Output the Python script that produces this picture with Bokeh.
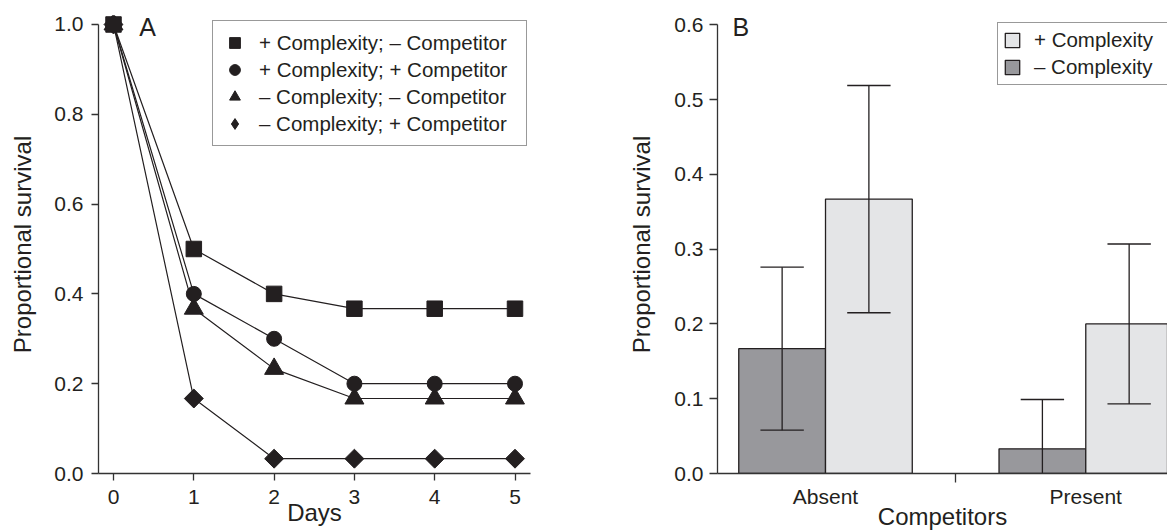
import math
from bokeh.plotting import figure
from bokeh.models import (FixedTicker, Legend, LegendItem, Label, Range1d,
                          PrintfTickFormatter)
from bokeh.layouts import row
from bokeh.embed import file_html
from bokeh.resources import INLINE

# ---------------- data ----------------
days = [0, 1, 2, 3, 4, 5]
plus_cx_no_comp = [1.0, 0.5, 0.4, 0.367, 0.367, 0.367]     # squares
plus_cx_comp = [1.0, 0.4, 0.3, 0.2, 0.2, 0.2]              # circles
minus_cx_no_comp = [1.0, 0.367, 0.233, 0.167, 0.167, 0.167]  # triangles
minus_cx_comp = [1.0, 0.167, 0.033, 0.033, 0.033, 0.033]   # diamonds
series_labels = ["+ Complexity; \u2013 Competitor", "+ Complexity; + Competitor",
                 "\u2013 Complexity; \u2013 Competitor", "\u2013 Complexity; + Competitor"]
yticks_a = [0.0, 0.2, 0.4, 0.6, 0.8, 1.0]

competitors = ["Absent", "Present"]
mean_minus_cx = [0.167, 0.033]
se_minus_cx = [0.109, 0.066]
mean_plus_cx = [0.367, 0.200]
se_plus_cx = [0.152, 0.107]
bar_labels = ["+ Complexity", "\u2013 Complexity"]
yticks_b = [0.0, 0.1, 0.2, 0.3, 0.4, 0.5, 0.6]

FONT = "Liberation Sans"
INK = "#231f20"
AXIS = "#333333"
DARK = "#98989c"
LIGHT = "#e4e5e7"


def style_axes(p):
    p.grid.visible = False
    p.outline_line_color = None
    for ax in p.axis:
        ax.axis_line_color = AXIS
        ax.axis_line_width = 1.3
        ax.major_tick_line_color = AXIS
        ax.major_tick_line_width = 1.3
        ax.minor_tick_line_color = AXIS
        ax.minor_tick_line_width = 1.3
        ax.major_tick_in = 0
        ax.minor_tick_in = 0
        ax.minor_tick_out = 0
        ax.major_tick_out = 7
        ax.major_label_text_font = FONT
        ax.major_label_text_font_size = "21px"
        ax.major_label_text_color = INK
        ax.axis_label_text_font = FONT
        ax.axis_label_text_font_size = "24px"
        ax.axis_label_text_font_style = "normal"
        ax.axis_label_text_color = INK


# ---------------- panel A ----------------
pA = figure(width=600, height=532, x_range=Range1d(-0.187, 5.193), y_range=Range1d(0, 1.02),
            output_backend="svg", toolbar_location=None,
            min_border_left=98, min_border_right=70, min_border_top=15, min_border_bottom=59)
style_axes(pA)
pA.xaxis.ticker = FixedTicker(ticks=days)
pA.yaxis.ticker = FixedTicker(ticks=yticks_a)
pA.yaxis.bounds = (yticks_a[0], yticks_a[-1])
pA.yaxis.formatter = PrintfTickFormatter(format="%.1f")
pA.xaxis.axis_label = "Days"
pA.yaxis.axis_label = "Proportional survival"
pA.xaxis.major_label_standoff = 9
pA.xaxis.axis_label_standoff = -8
pA.yaxis.major_label_standoff = 8
pA.yaxis.axis_label_standoff = 15

series = [
    (minus_cx_comp, dict(marker="square", size=13.4, angle=math.pi / 4), 3),
    (minus_cx_no_comp, dict(marker="triangle", size=19), 2),
    (plus_cx_comp, dict(marker="circle", size=15), 1),
    (plus_cx_no_comp, dict(marker="square", size=15.5), 0),
]
renderers = [None] * 4
for ys, mk, idx in series:
    pA.line(days, ys, line_color=INK, line_width=1.2)
for ys, mk, idx in series:
    renderers[idx] = pA.scatter(days, ys, fill_color=INK, line_color=INK, line_width=1, **mk)
# legend swatch for the diamond series (legend markers are drawn unrotated)
renderers[3] = pA.scatter(days, minus_cx_comp, marker="diamond", fill_color=INK,
                          line_color=INK, size=19, visible=False)

legA = Legend(items=[LegendItem(label=series_labels[i], renderers=[renderers[i]]) for i in range(4)],
              location=(114, 327), glyph_width=27, glyph_height=27, spacing=0,
              padding=8, label_standoff=11, label_width=259, label_height=20,
              label_text_font=FONT, label_text_font_size="20.5px", label_text_color=INK,
              border_line_color=AXIS, border_line_width=1.3, background_fill_color="white",
              background_fill_alpha=1.0, margin=0)
pA.add_layout(legA)
pA.add_layout(Label(x=0.32, y=0.964, text="A", text_font=FONT, text_font_size="25px",
                    text_color=INK))

# ---------------- panel B ----------------
pB = figure(width=567, height=532, x_range=Range1d(0.585, 2.314), y_range=Range1d(0, 0.6126),
            output_backend="svg", toolbar_location=None,
            min_border_left=117, min_border_right=0, min_border_top=15, min_border_bottom=59)
style_axes(pB)
xc = [i + 1 for i in range(len(competitors))]
mids = [(a + b) / 2 for a, b in zip(xc, xc[1:])]
bar_w = 1 / 3
pB.xaxis.ticker = FixedTicker(ticks=xc, minor_ticks=mids)
pB.xaxis.major_label_overrides = {x: c for x, c in zip(xc, competitors)}
pB.xaxis.major_tick_out = 0
pB.xaxis.minor_tick_out = 9
pB.xaxis.major_label_standoff = 2
pB.xaxis.axis_label = "Competitors"
pB.xaxis.axis_label_standoff = -8
pB.yaxis.ticker = FixedTicker(ticks=yticks_b)
pB.yaxis.bounds = (yticks_b[0], yticks_b[-1])
pB.yaxis.formatter = PrintfTickFormatter(format="%.1f")
pB.yaxis.axis_label = "Proportional survival"
pB.yaxis.major_tick_out = 8
pB.yaxis.major_label_standoff = 6
pB.yaxis.axis_label_standoff = 16

x_minus = [x - bar_w / 2 for x in xc]
x_plus = [x + bar_w / 2 for x in xc]
r_minus = pB.vbar(x=x_minus, top=mean_minus_cx, width=bar_w, fill_color=DARK,
                  line_color=INK, line_width=1.3)
r_plus = pB.vbar(x=x_plus, top=mean_plus_cx, width=bar_w, fill_color=LIGHT,
                 line_color=INK, line_width=1.3)

cap = bar_w / 4
for xs, m, s in [(x_minus, mean_minus_cx, se_minus_cx), (x_plus, mean_plus_cx, se_plus_cx)]:
    lo = [a - b for a, b in zip(m, s)]
    hi = [a + b for a, b in zip(m, s)]
    pB.segment(x0=xs, y0=lo, x1=xs, y1=hi, line_color=INK, line_width=1.3)
    pB.segment(x0=[x - cap for x in xs], y0=hi, x1=[x + cap for x in xs], y1=hi,
               line_color=INK, line_width=1.3)
    pB.segment(x0=[x - cap for x in xs], y0=lo, x1=[x + cap for x in xs], y1=lo,
               line_color=INK, line_width=1.3)

legB = Legend(items=[LegendItem(label=bar_labels[0], renderers=[r_plus]),
                     LegendItem(label=bar_labels[1], renderers=[r_minus])],
              location=(280, 388), glyph_width=18, glyph_height=18, spacing=3,
              padding=5, label_standoff=13, label_width=150, label_height=20,
              label_text_font=FONT, label_text_font_size="20.5px", label_text_color=INK,
              border_line_color=AXIS, border_line_width=1.3, background_fill_color="white",
              background_fill_alpha=1.0, margin=0)
pB.add_layout(legB)
pB.add_layout(Label(x=0.643, y=0.578, text="B", text_font=FONT, text_font_size="25px",
                    text_color=INK))

layout = row(pA, pB, spacing=0)
open("out.html", "w").write(file_html(layout, INLINE))
